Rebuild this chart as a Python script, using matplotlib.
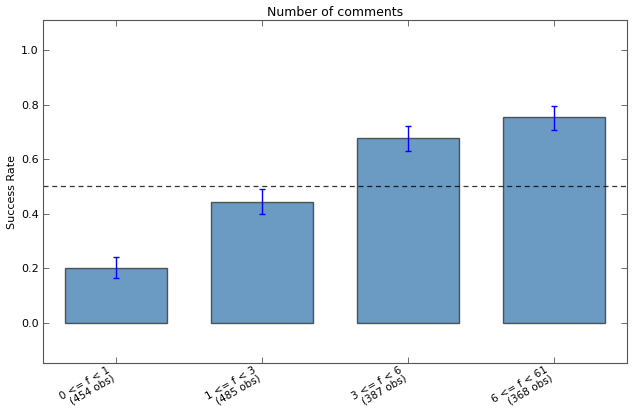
import matplotlib
matplotlib.use("Agg")
import matplotlib.pyplot as plt
import numpy as np

# success rate per bin of comment counts
bins = ["0 <= f < 1", "1 <= f < 3", "3 <= f < 6", "6 <= f < 61"]
n_obs = [454, 485, 387, 368]
rates = [0.202, 0.444, 0.676, 0.753]
err_low = [0.165, 0.400, 0.628, 0.707]
err_high = [0.240, 0.490, 0.722, 0.795]
baseline = 0.5

fig, ax = plt.subplots(figsize=(6.32, 4.12), dpi=100)
x = np.arange(len(bins))
yerr = [np.array(rates) - np.array(err_low), np.array(err_high) - np.array(rates)]

ax.bar(x, rates, width=0.7, color="steelblue", alpha=0.8, edgecolor="#333333", linewidth=1.0)
ax.errorbar(x, rates, yerr=yerr, fmt="none", ecolor="blue", elinewidth=1.0, capsize=2.5)
ax.axhline(baseline, color="black", linestyle=(0, (4, 3)), linewidth=0.9, alpha=0.8)

labels = [f"{b}\n({n} obs)" for b, n in zip(bins, n_obs)]
ax.set_xticks(x)
ax.set_xticklabels(labels, rotation=30, ha="right", fontsize=7.5, linespacing=0.9)
ax.set_xlim(-0.5, len(bins) - 0.5)
ax.set_ylim(-0.15, 1.11)
ax.set_yticks([0.0, 0.2, 0.4, 0.6, 0.8, 1.0])
ax.tick_params(axis="y", labelsize=8, pad=3)
ax.tick_params(axis="x", pad=1)
ax.tick_params(direction="in", top=True, right=True, length=4, width=0.6, colors="#555555", labelcolor="black")
ax.set_ylabel("Success Rate", fontsize=8, labelpad=3)
ax.set_title("Number of comments", fontsize=9, pad=3)
for s in ax.spines.values():
    s.set_color("#555555")

fig.subplots_adjust(left=0.068, right=0.992, top=0.951, bottom=0.118)
fig.savefig("out.png", dpi=100)
